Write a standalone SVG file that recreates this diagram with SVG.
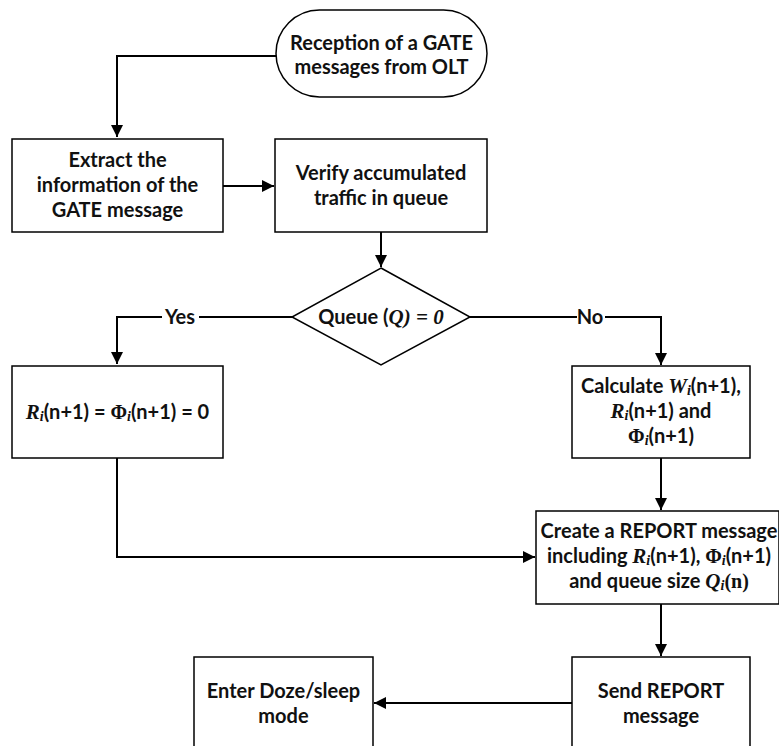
<svg xmlns="http://www.w3.org/2000/svg" width="779" height="746" viewBox="0 0 779 746">
<style>
  .box { fill: #fff; stroke: #000; stroke-width: 1.5; }
  .t { font-family: Lato, "Liberation Sans", Arial, sans-serif; font-weight: bold; font-size: 20px; fill: #111; text-anchor: middle; }
  .m { font-family: "Liberation Serif", "Times New Roman", serif; font-style: italic; font-weight: bold; font-size: 21px; }
  .mr { font-family: "Liberation Serif", "Times New Roman", serif; font-style: normal; font-weight: bold; font-size: 20px; }
  .sub { font-family: "Liberation Serif", "Times New Roman", serif; font-style: italic; font-weight: bold; font-size: 14px; }
  .mq { font-family: "Liberation Serif", "Times New Roman", serif; font-style: italic; font-weight: bold; font-size: 21px; }
  .c { fill: none; stroke: #000; stroke-width: 2; }
  .lbl { fill: #fff; }
</style>
<defs>
  <marker id="arr" viewBox="0 0 10 10" refX="10" refY="5" markerWidth="6" markerHeight="6" orient="auto" markerUnits="strokeWidth">
    <path d="M0,0 L10,5 L0,10 z" fill="#000"/>
  </marker>
</defs>

<g id="connectors">
  <path class="c" d="M276,56 H117 V137" marker-end="url(#arr)"/>
  <path class="c" d="M223,186 H274" marker-end="url(#arr)"/>
  <path class="c" d="M381,232 V267" marker-end="url(#arr)"/>
  <path class="c" d="M292,317 H117 V364" marker-end="url(#arr)"/>
  <path class="c" d="M470,317 H661 V365" marker-end="url(#arr)"/>
  <path class="c" d="M661,458 V510" marker-end="url(#arr)"/>
  <path class="c" d="M117,458 V557 H535" marker-end="url(#arr)"/>
  <path class="c" d="M661,604 V656" marker-end="url(#arr)"/>
  <path class="c" d="M572,703 H374" marker-end="url(#arr)"/>
  <g id="label-yes">
    <rect class="lbl" x="162" y="305" width="37" height="22"/>
    <text class="t" x="180" y="324">Yes</text>
  </g>
  <g id="label-no">
    <rect class="lbl" x="577" y="305" width="28" height="22"/>
    <text class="t" x="590" y="324">No</text>
  </g>
</g>

<g id="start">
  <rect class="box" x="276" y="10" width="211" height="87" rx="43.5" ry="43.5"/>
  <text class="t" x="381.5" y="50">Reception of a GATE</text>
  <text class="t" x="381.5" y="74">messages from OLT</text>
</g>

<g id="extract">
  <rect class="box" x="12" y="139" width="211" height="93"/>
  <text class="t" x="117.5" y="167">Extract the</text>
  <text class="t" x="117.5" y="192">information of the</text>
  <text class="t" x="117.5" y="217">GATE message</text>
</g>

<g id="verify">
  <rect class="box" x="275" y="139" width="212" height="93"/>
  <text class="t" x="381" y="180">Verify accumulated</text>
  <text class="t" x="381" y="205">traffic in queue</text>
</g>

<g id="decision">
  <polygon class="box" points="381,268 470,317 381,365 292,317"/>
  <text class="t" x="381" y="324">Queue (<tspan class="mq">Q</tspan><tspan class="mq" font-size="20">) = 0</tspan></text>
</g>

<g id="zero">
  <rect class="box" x="12" y="366" width="211" height="92"/>
  <text class="t" x="117.5" y="419"><tspan class="m">R</tspan><tspan class="sub" dy="2">i</tspan><tspan dy="-2">(n+1) = </tspan><tspan class="mr">Φ</tspan><tspan class="sub" dy="2">i</tspan><tspan dy="-2">(n+1) = 0</tspan></text>
</g>

<g id="calculate">
  <rect class="box" x="572" y="366" width="178" height="92"/>
  <text class="t" x="661" y="393">Calculate <tspan class="m">W</tspan><tspan class="sub" dy="2">i</tspan><tspan dy="-2">(n+1),</tspan></text>
  <text class="t" x="661" y="418"><tspan class="m">R</tspan><tspan class="sub" dy="2">i</tspan><tspan dy="-2">(n+1) and</tspan></text>
  <text class="t" x="661" y="443"><tspan class="mr">Φ</tspan><tspan class="sub" dy="2">i</tspan><tspan dy="-2">(n+1)</tspan></text>
</g>

<g id="create">
  <rect class="box" x="536" y="511" width="243" height="93"/>
  <text class="t" x="659" y="538">Create a REPORT message</text>
  <text class="t" x="659" y="563">including <tspan class="m">R</tspan><tspan class="sub" dy="2">i</tspan><tspan dy="-2">(n+1), </tspan><tspan class="mr">Φ</tspan><tspan class="sub" dy="2">i</tspan><tspan dy="-2">(n+1)</tspan></text>
  <text class="t" x="659" y="588">and queue size <tspan class="m">Q</tspan><tspan class="sub" dy="2">i</tspan><tspan class="mr" dy="-2">(n)</tspan></text>
</g>

<g id="send">
  <rect class="box" x="572" y="657" width="178" height="110"/>
  <text class="t" x="661" y="698">Send REPORT</text>
  <text class="t" x="661" y="723">message</text>
</g>

<g id="doze">
  <rect class="box" x="194" y="657" width="179" height="110"/>
  <text class="t" x="283.5" y="698">Enter Doze/sleep</text>
  <text class="t" x="283.5" y="723">mode</text>
</g>
</svg>
